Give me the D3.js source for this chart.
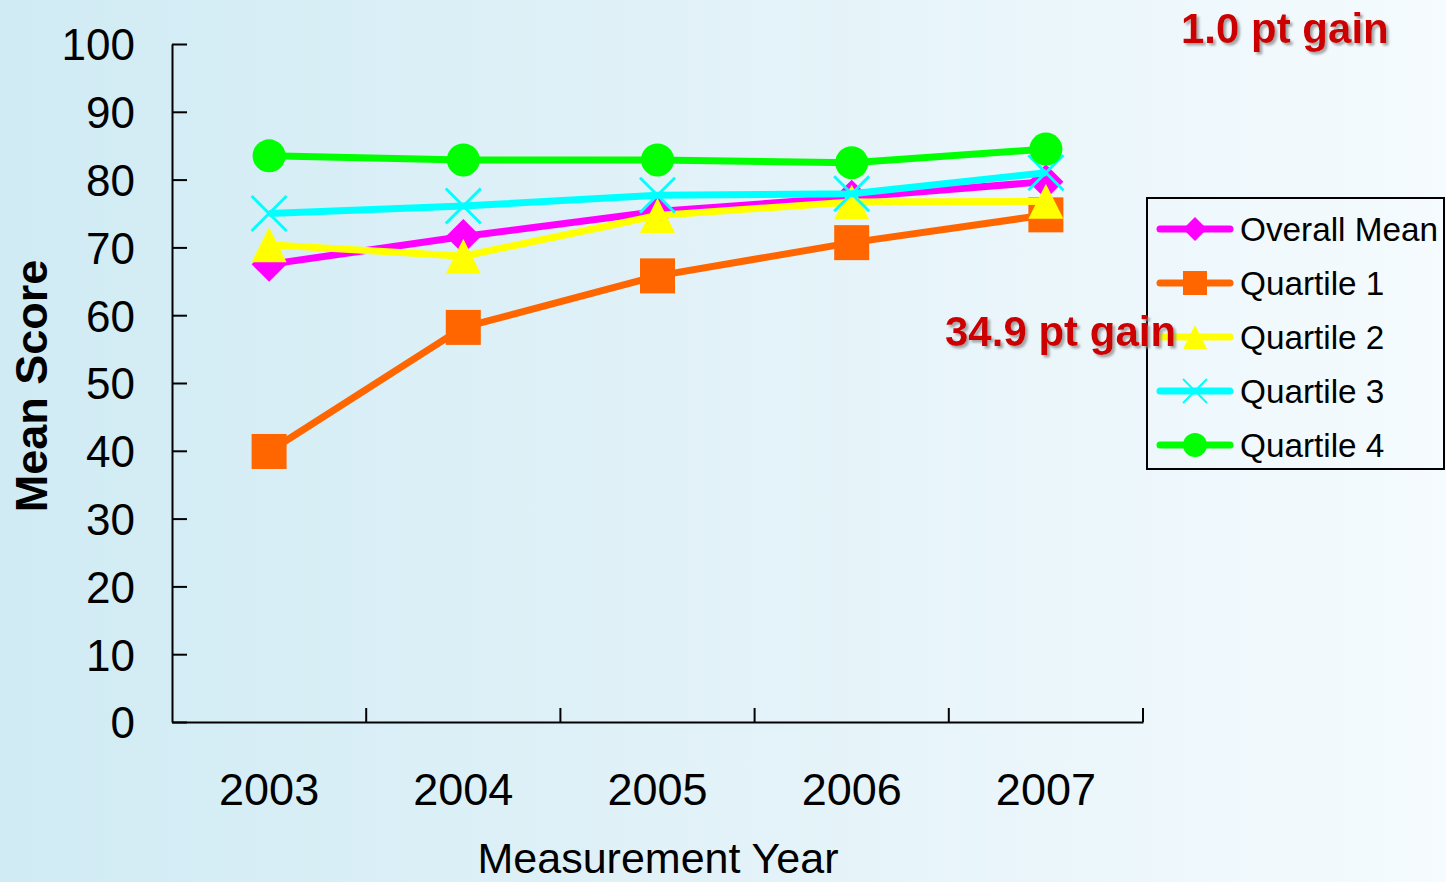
<!DOCTYPE html>
<html>
<head>
<meta charset="utf-8">
<script src="https://cdn.jsdelivr.net/npm/d3@7"></script>
<style>
  html, body { margin: 0; padding: 0; background: #e6f4f9; }
  svg { display: block; }
  text { font-family: "Liberation Sans", Arial, Helvetica, sans-serif; }
</style>
</head>
<body>
<script>
// Mean score by measurement year
const years = ["2003", "2004", "2005", "2006", "2007"];
const overallMean = [67.5, 71.6, 75.3, 77.4, 79.7];
const quartile1 = [39.9, 58.2, 65.8, 70.7, 74.8];
const quartile2 = [70.4, 68.7, 74.7, 76.7, 76.8];
const quartile3 = [75.0, 76.1, 77.7, 77.9, 81.0];
const quartile4 = [83.5, 82.9, 82.9, 82.5, 84.5];
const yTicks = [0, 10, 20, 30, 40, 50, 60, 70, 80, 90, 100];
const seriesNames = ["Overall Mean", "Quartile 1", "Quartile 2", "Quartile 3", "Quartile 4"];
const gainNotes = ["1.0 pt gain", "34.9 pt gain"];

const series = [
  { name: seriesNames[0], values: overallMean, color: "#ff00ff", marker: "diamond" },
  { name: seriesNames[1], values: quartile1, color: "#ff6600", marker: "square" },
  { name: seriesNames[2], values: quartile2, color: "#ffff00", marker: "triangle" },
  { name: seriesNames[3], values: quartile3, color: "#00ffff", marker: "cross" },
  { name: seriesNames[4], values: quartile4, color: "#00ff00", marker: "circle" }
];

const W = 1446, H = 882;
const svg = d3.select("body").append("svg").attr("width", W).attr("height", H);

// background: soft horizontal blue gradient
const defs = svg.append("defs");
const grad = defs.append("linearGradient").attr("id", "bg").attr("x1", 0).attr("x2", 1).attr("y1", 0).attr("y2", 0);
grad.append("stop").attr("offset", "0%").attr("stop-color", "#d0ebf4");
grad.append("stop").attr("offset", "50%").attr("stop-color", "#e2f2f8");
grad.append("stop").attr("offset", "100%").attr("stop-color", "#f5fbfe");
svg.append("rect").attr("width", W).attr("height", H).attr("fill", "url(#bg)");

const shadow = defs.append("filter").attr("id", "shadow").attr("x", "-10%").attr("y", "-20%").attr("width", "130%").attr("height", "150%");
shadow.append("feDropShadow").attr("dx", 2.5).attr("dy", 2.5).attr("stdDeviation", 1.2)
  .attr("flood-color", "#8a8a8a").attr("flood-opacity", 0.75);

const x = d3.scaleBand().domain(years).range([172, 1143]);
const y = d3.scaleLinear().domain([0, 100]).range([722, 44]);
const cx = d => x(d) + x.bandwidth() / 2;

// y axis with inward ticks
const yAxis = svg.append("g").attr("transform", `translate(${x.range()[0]},0)`)
  .call(d3.axisLeft(y).tickValues(yTicks).tickSizeInner(-15).tickSizeOuter(0).tickPadding(37));
yAxis.select(".domain").attr("stroke", "#000").attr("stroke-width", 2);
yAxis.selectAll(".tick line").attr("stroke", "#000").attr("stroke-width", 2);
yAxis.selectAll(".tick text").attr("font-size", 44).attr("fill", "#000")
  .attr("font-family", "'Liberation Sans', Arial, sans-serif").attr("dy", "0.36em");

// x axis: labels centred in each band, ticks at band boundaries
const xAxis = svg.append("g").attr("transform", `translate(0,${y(0)})`)
  .call(d3.axisBottom(x).tickSize(0).tickPadding(83));
xAxis.select(".domain").attr("stroke", "#000").attr("stroke-width", 2);
xAxis.selectAll(".tick text").attr("font-size", 45).attr("fill", "#000")
  .attr("font-family", "'Liberation Sans', Arial, sans-serif").attr("dy", "0");
const bounds = years.map(d => x(d)).concat([x.range()[1]]);
svg.append("g").selectAll("line").data(bounds.slice(1)).join("line")
  .attr("x1", d => d).attr("x2", d => d)
  .attr("y1", y(0)).attr("y2", y(0) - 14)
  .attr("stroke", "#000").attr("stroke-width", 2);

// axis titles
svg.append("text").attr("transform", `translate(47,386) rotate(-90)`)
  .attr("text-anchor", "middle").attr("font-size", 45).attr("font-weight", "bold").text("Mean Score");
svg.append("text").attr("x", 658).attr("y", 873)
  .attr("text-anchor", "middle").attr("font-size", 43).text("Measurement Year");

// marker shapes
function drawMarker(g, type, color, s) {
  const h = s / 2;
  if (type === "diamond") {
    g.append("path").attr("d", `M0,${-h}L${h},0L0,${h}L${-h},0Z`).attr("fill", color);
  } else if (type === "square") {
    g.append("rect").attr("x", -h).attr("y", -h).attr("width", s).attr("height", s).attr("fill", color);
  } else if (type === "triangle") {
    g.append("path").attr("d", `M0,${-h}L${h},${h}L${-h},${h}Z`).attr("fill", color);
  } else if (type === "cross") {
    g.append("path").attr("d", `M${-h},${-h}L${h},${h}M${h},${-h}L${-h},${h}`)
      .attr("stroke", color).attr("stroke-width", Math.max(2, s / 12)).attr("fill", "none");
  } else if (type === "circle") {
    g.append("circle").attr("r", h).attr("fill", color);
  }
}

const line = d3.line().x((d, i) => cx(years[i])).y(d => y(d));

series.forEach(s => {
  const g = svg.append("g");
  g.append("path").datum(s.values).attr("d", line)
    .attr("fill", "none").attr("stroke", s.color).attr("stroke-width", 7)
    .attr("stroke-linejoin", "round");
  s.values.forEach((v, i) => {
    const m = g.append("g").attr("transform", `translate(${cx(years[i])},${y(v)})`);
    drawMarker(m, s.marker, s.color, s.marker === "circle" ? 33 : 35);
  });
});

// legend
const lg = svg.append("g");
lg.append("rect").attr("x", 1147).attr("y", 198).attr("width", 297).attr("height", 271)
  .attr("fill", "none").attr("stroke", "#000").attr("stroke-width", 2);
series.forEach((s, i) => {
  const ry = 229 + i * 54;
  lg.append("line").attr("x1", 1160).attr("x2", 1230).attr("y1", ry).attr("y2", ry)
    .attr("stroke", s.color).attr("stroke-width", 7).attr("stroke-linecap", "round");
  const m = lg.append("g").attr("transform", `translate(1195,${ry})`);
  drawMarker(m, s.marker, s.color, 24);
  lg.append("text").attr("x", 1240).attr("y", ry + 12).attr("font-size", 33.3).text(s.name);
});

// gain annotations
svg.append("text").attr("x", 1181).attr("y", 43).attr("font-size", 42).attr("font-weight", "bold")
  .attr("fill", "#cc0000").attr("filter", "url(#shadow)").text(gainNotes[0]);
svg.append("text").attr("x", 945).attr("y", 346).attr("font-size", 42).attr("font-weight", "bold")
  .attr("fill", "#cc0000").attr("filter", "url(#shadow)").text(gainNotes[1]);
</script>
</body>
</html>
